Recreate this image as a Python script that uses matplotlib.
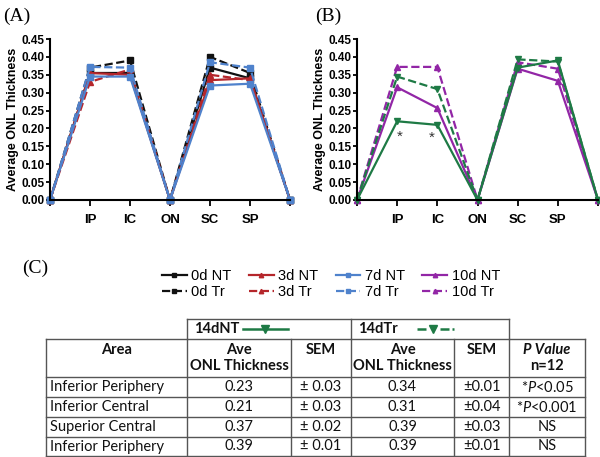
import numpy as np
import matplotlib.pyplot as plt

plt.rcParams['font.family'] = ['Liberation Sans', 'DejaVu Sans']
plt.rcParams['mathtext.fontset'] = 'custom'
plt.rcParams['mathtext.it'] = 'Lato:italic'
plt.rcParams['mathtext.rm'] = 'Lato'

# x categories (first and last point unlabelled)
cats = ['', 'IP', 'IC', 'ON', 'SC', 'SP', '']

# panel A
nt_0d = [0, 0.355, 0.355, 0, 0.370, 0.340, 0]
tr_0d = [0, 0.370, 0.390, 0, 0.400, 0.355, 0]
nt_3d = [0, 0.355, 0.350, 0, 0.335, 0.340, 0]
tr_3d = [0, 0.330, 0.365, 0, 0.350, 0.335, 0]
nt_7d = [0, 0.345, 0.345, 0, 0.320, 0.325, 0]
tr_7d = [0, 0.372, 0.370, 0, 0.385, 0.370, 0]

# panel B
nt_10d = [0, 0.315, 0.257, 0, 0.367, 0.333, 0]
tr_10d = [0, 0.372, 0.372, 0, 0.385, 0.367, 0]
nt_14d = [0, 0.220, 0.210, 0, 0.370, 0.390, 0]
tr_14d = [0, 0.345, 0.310, 0, 0.393, 0.387, 0]
star_x = [1.07, 1.87]
star_y = [0.176, 0.174]

# table
areas = ['Inferior Periphery', 'Inferior Central', 'Superior Central', 'Inferior Periphery']
ave_nt = ['0.23', '0.21', '0.37', '0.39']
sem_nt = ['± 0.03', '± 0.03', '± 0.02', '± 0.01']
ave_tr = ['0.34', '0.31', '0.39', '0.39']
sem_tr = ['±0.01', '±0.04', '±0.03', '±0.01']
pvals = ['*$\\it{P}$<0.05', '*$\\it{P}$<0.001', 'NS', 'NS']

BLACK = '#111111'
RED = '#b5262b'
BLUE = '#4f82cc'
PURPLE = '#9226a6'
GREEN = '#1e7a45'

W, H = 600, 457
fig = plt.figure(figsize=(6, 4.57), dpi=100)

def px_axes(x0, y0, x1, y1):
    return fig.add_axes([x0 / W, 1 - y1 / H, (x1 - x0) / W, (y1 - y0) / H])

def style_axis(ax):
    yt = np.arange(0, 0.451, 0.05)
    ax.set_xlim(0, 6)
    ax.set_ylim(0, 0.45)
    ax.set_yticks(yt)
    ax.set_yticklabels([f'{v:.2f}' for v in yt], fontweight='bold', fontsize=8.5,
                       family='Liberation Sans')
    ax.set_xticks(range(7))
    ax.set_xticklabels(cats, fontweight='bold', fontsize=9.5, family='Liberation Sans')
    ax.tick_params(axis='x', pad=6, length=4, width=1.3)
    ax.tick_params(axis='y', pad=1, length=3, width=1.3)
    for s in ['top', 'right']:
        ax.spines[s].set_visible(False)
    for s in ['left', 'bottom']:
        ax.spines[s].set_linewidth(1.5)
    ax.set_ylabel('Average ONL Thickness', fontweight='bold', fontsize=9, labelpad=2,
                  family='Liberation Sans')

x = np.arange(7)
lw = 1.6
ms = 4

axA = px_axes(50, 39, 290, 200)
hA = []
for vals, c, m, ls, lab in [
    (nt_0d, BLACK, 's', '-', '0d NT'), (tr_0d, BLACK, 's', '--', '0d Tr'),
    (nt_3d, RED, '^', '-', '3d NT'), (tr_3d, RED, '^', '--', '3d Tr'),
    (nt_7d, BLUE, 's', '-', '7d NT'), (tr_7d, BLUE, 's', '--', '7d Tr')]:
    l, = axA.plot(x, vals, color=c, marker=m, ls=ls, lw=lw, ms=ms, label=lab, clip_on=False)
    hA.append(l)
style_axis(axA)

axB = px_axes(357, 39, 598, 200)
hB = []
for vals, c, m, ls, lab in [
    (nt_10d, PURPLE, '^', '-', '10d NT'), (tr_10d, PURPLE, '^', '--', '10d Tr'),
    (nt_14d, GREEN, 'v', '-', '14dNT'), (tr_14d, GREEN, 'v', '--', '14dTr')]:
    l, = axB.plot(x, vals, color=c, marker=m, ls=ls, lw=lw, ms=ms + 1 if m == 'v' else ms,
                  label=lab, clip_on=False)
    hB.append(l)
style_axis(axB)
for sx, sy in zip(star_x, star_y):
    axB.text(sx, sy, '*', fontsize=11, ha='center', va='center', color='#333333')

fig.text(3 / W, 1 - 16 / H, '(A)', fontsize=14, family='Liberation Serif', va='center')
fig.text(315 / W, 1 - 16 / H, '(B)', fontsize=14, family='Liberation Serif', va='center')
fig.text(22 / W, 1 - 268 / H, '(C)', fontsize=14, family='Liberation Serif', va='center')

leg = fig.legend(handles=hA + hB[:2], ncol=4, loc='center', bbox_to_anchor=(331 / W, 1 - 284 / H),
                 frameon=False, fontsize=10.5, handlelength=1.7, handletextpad=0.3,
                 columnspacing=1.2, labelspacing=0.15, borderaxespad=0, markerscale=0.8)

# table drawn in pixel coordinates
axT = fig.add_axes([0, 0, 1, 1 - 300 / H])
axT.set_xlim(0, W)
axT.set_ylim(H, 300)
axT.axis('off')
cols = [46, 187, 291, 351, 454, 509, 585]
rows = [339, 377, 397, 417, 437, 456]
lc = '#555555'
tkw = dict(color=lc, lw=1.0)
for yy in rows:
    axT.plot([cols[0], cols[-1]], [yy, yy], **tkw)
for xx in cols:
    axT.plot([xx, xx], [rows[0], rows[-1]], **tkw)
# group header boxes
axT.plot([cols[1], cols[5]], [319, 319], **tkw)
for xx in [cols[1], cols[3], cols[5]]:
    axT.plot([xx, xx], [319, rows[0]], **tkw)

tf = dict(family='Lato', fontsize=10.5, color='#111111')
axT.text(cols[1] + 7, 329, '14dNT', fontweight='bold', va='center', ha='left', **tf)
axT.text(cols[3] + 7, 329, '14dTr', fontweight='bold', va='center', ha='left', **tf)
axT.plot([243, 288], [329, 329], color=GREEN, lw=1.8)
axT.plot([265], [329], marker='v', color=GREEN, ms=6)
# dashed key: dash, marker, dash, dot
axT.plot([417, 426], [329, 329], color=GREEN, lw=1.8, solid_capstyle='butt')
axT.plot([440, 449], [329, 329], color=GREEN, lw=1.8, solid_capstyle='butt')
axT.plot([452, 453.5], [329, 329], color=GREEN, lw=1.8, solid_capstyle='butt')
axT.plot([433], [329], marker='v', color=GREEN, ms=6)

hy1, hy2 = 350, 366
axT.text((cols[0] + cols[1]) / 2, hy1, 'Area', fontweight='bold', ha='center', va='center', **tf)
axT.text((cols[1] + cols[2]) / 2, hy1, 'Ave', fontweight='bold', ha='center', va='center', **tf)
axT.text((cols[1] + cols[2]) / 2, hy2, 'ONL Thickness', fontweight='bold', ha='center', va='center', **tf)
axT.text((cols[2] + cols[3]) / 2, hy1, 'SEM', fontweight='bold', ha='center', va='center', **tf)
axT.text((cols[3] + cols[4]) / 2, hy1, 'Ave', fontweight='bold', ha='center', va='center', **tf)
axT.text((cols[3] + cols[4]) / 2, hy2, 'ONL Thickness', fontweight='bold', ha='center', va='center', **tf)
axT.text((cols[4] + cols[5]) / 2, hy1, 'SEM', fontweight='bold', ha='center', va='center', **tf)
axT.text((cols[5] + cols[6]) / 2, hy1, 'P Value', fontweight='bold', style='italic', ha='center', va='center', **tf)
axT.text((cols[5] + cols[6]) / 2, hy2, 'n=12', fontweight='bold', ha='center', va='center', **tf)

for i in range(len(areas)):
    yc = (rows[i + 1] + rows[i + 2]) / 2
    axT.text(cols[0] + 4, yc, areas[i], ha='left', va='center', **tf)
    axT.text((cols[1] + cols[2]) / 2, yc, ave_nt[i], ha='center', va='center', **tf)
    axT.text((cols[2] + cols[3]) / 2, yc, sem_nt[i], ha='center', va='center', **tf)
    axT.text((cols[3] + cols[4]) / 2, yc, ave_tr[i], ha='center', va='center', **tf)
    axT.text((cols[4] + cols[5]) / 2, yc, sem_tr[i], ha='center', va='center', **tf)
    axT.text((cols[5] + cols[6]) / 2, yc, pvals[i], ha='center', va='center', **tf)

fig.savefig('out.png', dpi=100)
